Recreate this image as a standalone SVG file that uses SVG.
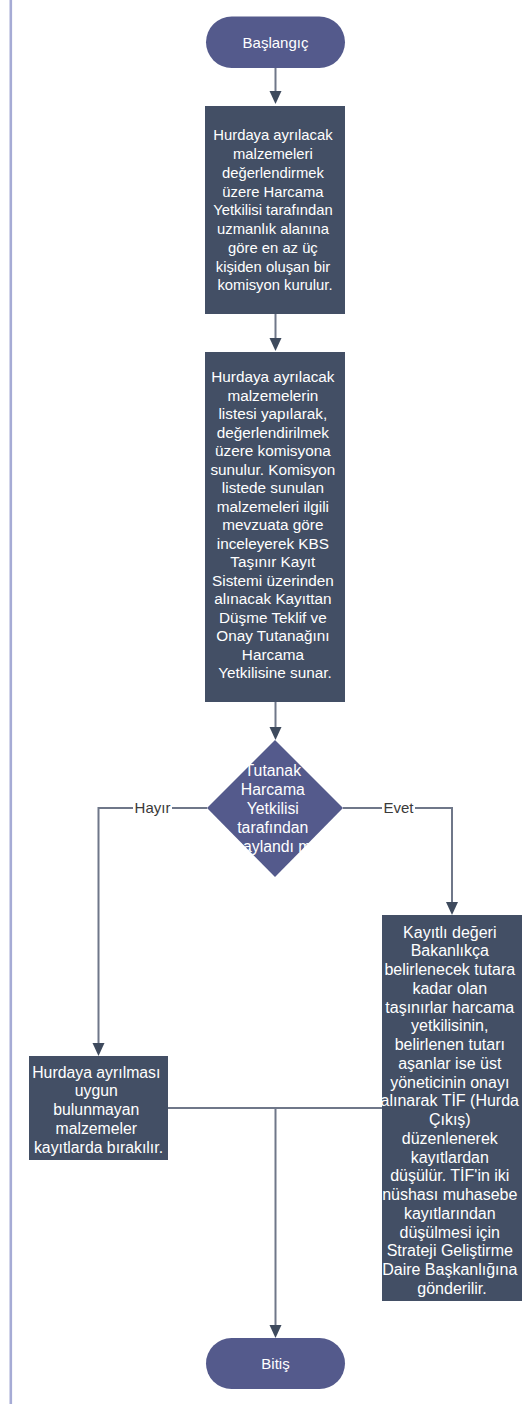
<svg xmlns="http://www.w3.org/2000/svg" width="531" height="1404" viewBox="0 0 531 1404">
<defs>
<style>
.term{fill:#545a8c;}
.proc{fill:#434f65;}
.dec{fill:#545a8c;}
.t{font-family:"Liberation Sans",Arial,sans-serif;fill:#ffffff;text-anchor:middle;}
.lbl{font-family:"Liberation Sans",Arial,sans-serif;fill:#3a3a3a;text-anchor:middle;font-size:15px;}
.c{fill:none;stroke:#6f7789;stroke-width:2;}
.ah{fill:#3e4a5d;}
</style>
</defs>
<rect x="0" y="0" width="531" height="1404" fill="#ffffff"/>
<line x1="10.8" y1="0" x2="10.8" y2="1404" stroke="#a6abd5" stroke-width="2.6"/>

<g id="connectors">
<line class="c" x1="275.5" y1="68" x2="275.5" y2="92"/>
<path class="ah" d="M269.5,91 L281.5,91 L275.5,104 Z"/>
<line class="c" x1="275.5" y1="314" x2="275.5" y2="339"/>
<path class="ah" d="M269.5,338 L281.5,338 L275.5,351 Z"/>
<line class="c" x1="275.5" y1="702" x2="275.5" y2="728"/>
<path class="ah" d="M269.5,727 L281.5,727 L275.5,740 Z"/>
<polyline class="c" points="207,808 98.5,808 98.5,1044"/>
<path class="ah" d="M92.5,1043 L104.5,1043 L98.5,1056 Z"/>
<polyline class="c" points="343,808 452,808 452,903"/>
<path class="ah" d="M446,902 L458,902 L452,915 Z"/>
<line class="c" x1="168" y1="1108" x2="382" y2="1108"/>
<line class="c" x1="275.5" y1="1108" x2="275.5" y2="1326"/>
<path class="ah" d="M269.5,1325 L281.5,1325 L275.5,1338 Z"/>
<rect x="133" y="799" width="39" height="18" fill="#ffffff"/>
<text class="lbl" x="152.5" y="813">Hayır</text>
<rect x="382" y="799" width="33" height="18" fill="#ffffff"/>
<text class="lbl" x="398.5" y="813">Evet</text>
</g>

<g id="start">
<rect class="term" x="206" y="16.5" width="139" height="51.5" rx="25.75"/>
<text class="t" x="275.5" y="47.5" font-size="15">Başlangıç</text>
</g>

<g id="box1">
<rect class="proc" x="205" y="106" width="140" height="208"/>
<text class="t" font-size="14.8">
<tspan x="275" y="140.3">Hurdaya ayrılacak</tspan>
<tspan x="275" y="159.05">malzemeleri</tspan>
<tspan x="275" y="177.8">değerlendirmek</tspan>
<tspan x="275" y="196.55">üzere Harcama</tspan>
<tspan x="275" y="215.3">Yetkilisi tarafından</tspan>
<tspan x="275" y="234.05">uzmanlık alanına</tspan>
<tspan x="275" y="252.8">göre en az üç</tspan>
<tspan x="275" y="271.55">kişiden oluşan bir</tspan>
<tspan x="275" y="290.3">komisyon kurulur.</tspan>
</text>
</g>

<g id="box2">
<rect class="proc" x="205" y="352" width="140" height="350"/>
<text class="t" font-size="15.3">
<tspan x="275" y="382.3">Hurdaya ayrılacak</tspan>
<tspan x="275" y="400.8">malzemelerin</tspan>
<tspan x="275" y="419.3">listesi yapılarak,</tspan>
<tspan x="275" y="437.8">değerlendirilmek</tspan>
<tspan x="275" y="456.3">üzere komisyona</tspan>
<tspan x="275" y="474.8">sunulur. Komisyon</tspan>
<tspan x="275" y="493.3">listede sunulan</tspan>
<tspan x="275" y="511.8">malzemeleri ilgili</tspan>
<tspan x="275" y="530.3">mevzuata göre</tspan>
<tspan x="275" y="548.8">inceleyerek KBS</tspan>
<tspan x="275" y="567.3">Taşınır Kayıt</tspan>
<tspan x="275" y="585.8">Sistemi üzerinden</tspan>
<tspan x="275" y="604.3">alınacak Kayıttan</tspan>
<tspan x="275" y="622.8">Düşme Teklif ve</tspan>
<tspan x="275" y="641.3">Onay Tutanağını</tspan>
<tspan x="275" y="659.8">Harcama</tspan>
<tspan x="275" y="678.3">Yetkilisine sunar.</tspan>
</text>
</g>

<g id="decision">
<path class="dec" d="M275,740 L343,808 L275,877 L207,808 Z"/>
<text class="t" font-size="15.8">
<tspan x="275" y="775.5">Tutanak</tspan>
<tspan x="275" y="794.7">Harcama</tspan>
<tspan x="275" y="813.9">Yetkilisi</tspan>
<tspan x="275" y="833.1">tarafından</tspan>
<tspan x="275" y="852.3">onaylandı mı?</tspan>
</text>
</g>

<g id="box3">
<rect class="proc" x="29" y="1056" width="139" height="104"/>
<text class="t" font-size="15.8">
<tspan x="98.5" y="1077.6">Hurdaya ayrılması</tspan>
<tspan x="98.5" y="1096.35">uygun</tspan>
<tspan x="98.5" y="1115.1">bulunmayan</tspan>
<tspan x="98.5" y="1133.85">malzemeler</tspan>
<tspan x="98.5" y="1152.6">kayıtlarda bırakılır.</tspan>
</text>
</g>

<g id="box4">
<rect class="proc" x="382" y="915" width="140" height="386"/>
<text class="t" font-size="16">
<tspan x="452" y="937.6">Kayıtlı değeri</tspan>
<tspan x="452" y="956.35">Bakanlıkça</tspan>
<tspan x="452" y="975.1">belirlenecek tutara</tspan>
<tspan x="452" y="993.85">kadar olan</tspan>
<tspan x="452" y="1012.6">taşınırlar harcama</tspan>
<tspan x="452" y="1031.35">yetkilisinin,</tspan>
<tspan x="452" y="1050.1">belirlenen tutarı</tspan>
<tspan x="452" y="1068.85">aşanlar ise üst</tspan>
<tspan x="452" y="1087.6">yöneticinin onayı</tspan>
<tspan x="452" y="1106.35">alınarak TİF (Hurda</tspan>
<tspan x="452" y="1125.1">Çıkış)</tspan>
<tspan x="452" y="1143.85">düzenlenerek</tspan>
<tspan x="452" y="1162.6">kayıtlardan</tspan>
<tspan x="452" y="1181.35">düşülür. TİF'in iki</tspan>
<tspan x="452" y="1200.1">nüshası muhasebe</tspan>
<tspan x="452" y="1218.85">kayıtlarından</tspan>
<tspan x="452" y="1237.6">düşülmesi için</tspan>
<tspan x="452" y="1256.35">Strateji Geliştirme</tspan>
<tspan x="452" y="1275.1">Daire Başkanlığına</tspan>
<tspan x="452" y="1293.85">gönderilir.</tspan>
</text>
</g>

<g id="end">
<rect class="term" x="206" y="1338" width="139" height="51" rx="25.5"/>
<text class="t" x="275.5" y="1369" font-size="15">Bitiş</text>
</g>
</svg>
